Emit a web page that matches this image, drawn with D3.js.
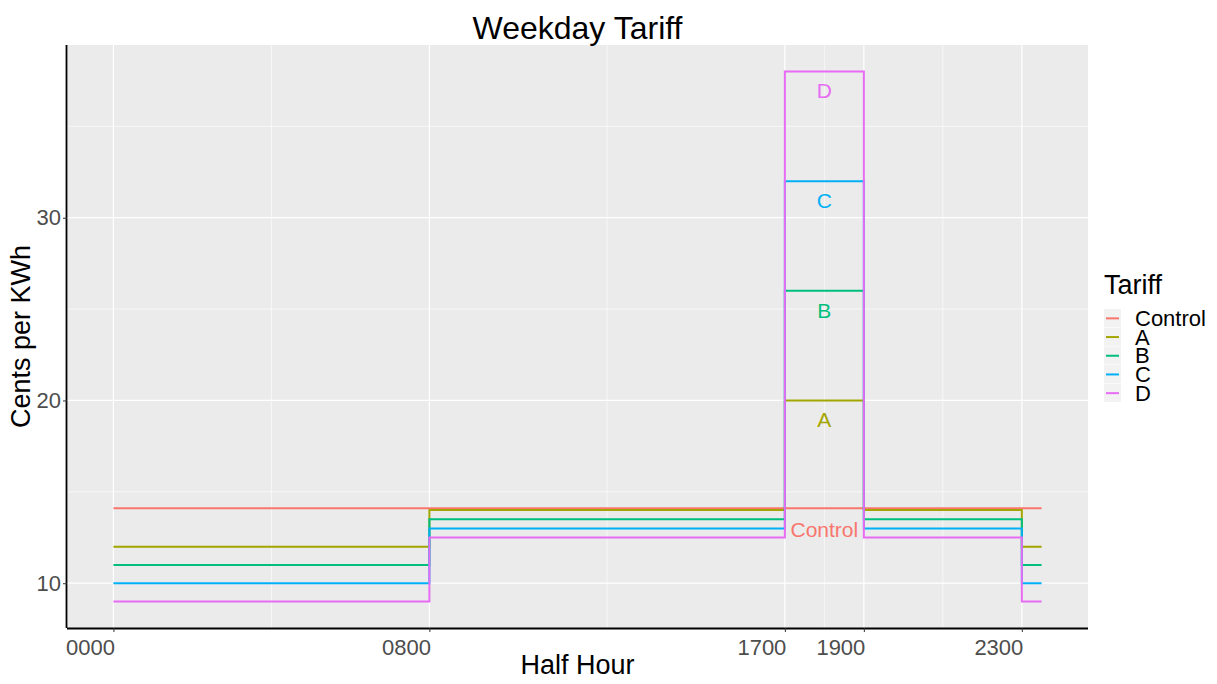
<!DOCTYPE html>
<html>
<head>
<meta charset="utf-8">
<script src="https://cdn.jsdelivr.net/npm/d3@7"></script>
<style>
  body { margin: 0; background: #fff; }
  text { font-family: "Liberation Sans", Arial, sans-serif; }
</style>
</head>
<body>
<div id="chart"></div>
<script>
// half hour index (1 = 0000, 48 = 2330)
const halfHour = [1, 2, 3, 4, 5, 6, 7, 8, 9, 10, 11, 12, 13, 14, 15, 16,
  17, 18, 19, 20, 21, 22, 23, 24, 25, 26, 27, 28, 29, 30, 31, 32, 33, 34,
  35, 36, 37, 38, 39, 40, 41, 42, 43, 44, 45, 46, 47, 48];

const tariffs = ["Control", "A", "B", "C", "D"];
const tariffColors = ["#F8766D", "#A3A500", "#00BF7D", "#00B0F6", "#E76BF3"];

// cents per kWh for each half hour
const controlRate = [14.1, 14.1, 14.1, 14.1, 14.1, 14.1, 14.1, 14.1, 14.1, 14.1, 14.1, 14.1, 14.1, 14.1, 14.1, 14.1,
  14.1, 14.1, 14.1, 14.1, 14.1, 14.1, 14.1, 14.1, 14.1, 14.1, 14.1, 14.1, 14.1, 14.1, 14.1, 14.1, 14.1, 14.1,
  14.1, 14.1, 14.1, 14.1, 14.1, 14.1, 14.1, 14.1, 14.1, 14.1, 14.1, 14.1, 14.1, 14.1];
const rateA = [12, 12, 12, 12, 12, 12, 12, 12, 12, 12, 12, 12, 12, 12, 12, 12,
  14, 14, 14, 14, 14, 14, 14, 14, 14, 14, 14, 14, 14, 14, 14, 14, 14, 14,
  20, 20, 20, 20, 14, 14, 14, 14, 14, 14, 14, 14, 12, 12];
const rateB = [11, 11, 11, 11, 11, 11, 11, 11, 11, 11, 11, 11, 11, 11, 11, 11,
  13.5, 13.5, 13.5, 13.5, 13.5, 13.5, 13.5, 13.5, 13.5, 13.5, 13.5, 13.5, 13.5, 13.5, 13.5, 13.5, 13.5, 13.5,
  26, 26, 26, 26, 13.5, 13.5, 13.5, 13.5, 13.5, 13.5, 13.5, 13.5, 11, 11];
const rateC = [10, 10, 10, 10, 10, 10, 10, 10, 10, 10, 10, 10, 10, 10, 10, 10,
  13, 13, 13, 13, 13, 13, 13, 13, 13, 13, 13, 13, 13, 13, 13, 13, 13, 13,
  32, 32, 32, 32, 13, 13, 13, 13, 13, 13, 13, 13, 10, 10];
const rateD = [9, 9, 9, 9, 9, 9, 9, 9, 9, 9, 9, 9, 9, 9, 9, 9,
  12.5, 12.5, 12.5, 12.5, 12.5, 12.5, 12.5, 12.5, 12.5, 12.5, 12.5, 12.5, 12.5, 12.5, 12.5, 12.5, 12.5, 12.5,
  38, 38, 38, 38, 12.5, 12.5, 12.5, 12.5, 12.5, 12.5, 12.5, 12.5, 9, 9];

// text labels placed in the peak block
const labelX = 37;
const labelY = [12.95, 18.95, 24.95, 30.95, 36.95];

const xTickValues = [1, 17, 35, 39, 47];
const xTickLabels = ["0000", "0800", "1700", "1900", "2300"];
const yTickValues = [10, 20, 30];

const series = [controlRate, rateA, rateB, rateC, rateD];

const width = 1217, height = 684;
const margin = { top: 45, right: 129, bottom: 56, left: 67 };

const svg = d3.select("#chart").append("svg")
  .attr("width", width)
  .attr("height", height);

const x = d3.scaleLinear()
  .domain([1 - 47 * 0.05, 48 + 47 * 0.05])
  .range([margin.left, width - margin.right]);

const yMin = d3.min(series, s => d3.min(s)), yMax = d3.max(series, s => d3.max(s));
const yPad = (yMax - yMin) * 0.05;
const y = d3.scaleLinear()
  .domain([yMin - yPad, yMax + yPad])
  .range([height - margin.bottom, margin.top]);

// panel background
svg.append("rect")
  .attr("x", margin.left).attr("y", margin.top)
  .attr("width", width - margin.left - margin.right)
  .attr("height", height - margin.top - margin.bottom)
  .attr("fill", "#EBEBEB");

// minor grid
const xMinor = d3.pairs(xTickValues).map(p => (p[0] + p[1]) / 2);
const yMinor = [15, 25, 35];
const grid = svg.append("g");
grid.selectAll("line.xminor").data(xMinor).join("line")
  .attr("x1", d => x(d)).attr("x2", d => x(d))
  .attr("y1", margin.top).attr("y2", height - margin.bottom)
  .attr("stroke", "#fff").attr("stroke-width", 0.6);
grid.selectAll("line.yminor").data(yMinor).join("line")
  .attr("y1", d => y(d)).attr("y2", d => y(d))
  .attr("x1", margin.left).attr("x2", width - margin.right)
  .attr("stroke", "#fff").attr("stroke-width", 0.6);
// major grid
grid.selectAll("line.xmajor").data(xTickValues).join("line")
  .attr("x1", d => x(d)).attr("x2", d => x(d))
  .attr("y1", margin.top).attr("y2", height - margin.bottom)
  .attr("stroke", "#fff").attr("stroke-width", 1.2);
grid.selectAll("line.ymajor").data(yTickValues).join("line")
  .attr("y1", d => y(d)).attr("y2", d => y(d))
  .attr("x1", margin.left).attr("x2", width - margin.right)
  .attr("stroke", "#fff").attr("stroke-width", 1.2);

// step lines
const line = d3.line()
  .x((d, i) => x(halfHour[i]))
  .y(d => y(d))
  .curve(d3.curveStepAfter);

svg.append("g").selectAll("path").data(series).join("path")
  .attr("d", d => line(d))
  .attr("fill", "none")
  .attr("stroke", (d, i) => tariffColors[i])
  .attr("stroke-width", 2);

// labels
svg.append("g").selectAll("text").data(tariffs).join("text")
  .attr("x", x(labelX))
  .attr("y", (d, i) => y(labelY[i]))
  .attr("text-anchor", "middle")
  .attr("dominant-baseline", "central")
  .attr("fill", (d, i) => tariffColors[i])
  .style("font-size", "21px")
  .text(d => d);

// axes
const xAxis = svg.append("g")
  .attr("transform", `translate(0,${height - margin.bottom})`)
  .call(d3.axisBottom(x).tickValues(xTickValues)
    .tickFormat((d, i) => xTickLabels[i]).tickSize(4).tickSizeOuter(0));
xAxis.select(".domain").attr("stroke", "#000").attr("stroke-width", 1.8)
  .attr("d", `M${margin.left},0.5H${width - margin.right}`);
xAxis.selectAll(".tick line").attr("stroke", "#333");
xAxis.selectAll(".tick text")
  .attr("fill", "#4D4D4D").style("font-size", "22px")
  .attr("text-anchor", "end").attr("x", 1).attr("dy", "0.9em");

const yAxis = svg.append("g")
  .attr("transform", `translate(${margin.left},0)`)
  .call(d3.axisLeft(y).tickValues(yTickValues).tickSize(4).tickSizeOuter(0));
yAxis.select(".domain").attr("stroke", "#000").attr("stroke-width", 1.8)
  .attr("d", `M-0.5,${margin.top}V${height - margin.bottom}`);
yAxis.selectAll(".tick line").attr("stroke", "#333");
yAxis.selectAll(".tick text")
  .attr("fill", "#4D4D4D").style("font-size", "22px").attr("x", -6);

// titles
const panelCx = (margin.left + width - margin.right) / 2;
svg.append("text")
  .attr("x", panelCx).attr("y", 39)
  .attr("text-anchor", "middle")
  .style("font-size", "32px")
  .text("Weekday Tariff");

svg.append("text")
  .attr("x", panelCx).attr("y", 674)
  .attr("text-anchor", "middle")
  .style("font-size", "27px")
  .text("Half Hour");

svg.append("text")
  .attr("transform", `translate(30,${(margin.top + height - margin.bottom) / 2}) rotate(-90)`)
  .attr("text-anchor", "middle")
  .style("font-size", "27px")
  .text("Cents per KWh");

// legend
const legend = svg.append("g").attr("transform", "translate(1104,0)");
legend.append("text")
  .attr("x", 0).attr("y", 294)
  .style("font-size", "27px")
  .text("Tariff");

const keyH = 18.7;
const keys = legend.selectAll("g.key").data(tariffs).join("g")
  .attr("transform", (d, i) => `translate(0,${309 + i * keyH})`);
keys.append("rect")
  .attr("width", 17).attr("height", keyH - 0.6)
  .attr("fill", "#F2F2F2");
keys.append("line")
  .attr("x1", 2).attr("x2", 15)
  .attr("y1", keyH / 2).attr("y2", keyH / 2)
  .attr("stroke", (d, i) => tariffColors[i])
  .attr("stroke-width", 2);
keys.append("text")
  .attr("x", 31).attr("y", keyH / 2)
  .attr("dominant-baseline", "central")
  .style("font-size", "22px")
  .text(d => d);
</script>
</body>
</html>
